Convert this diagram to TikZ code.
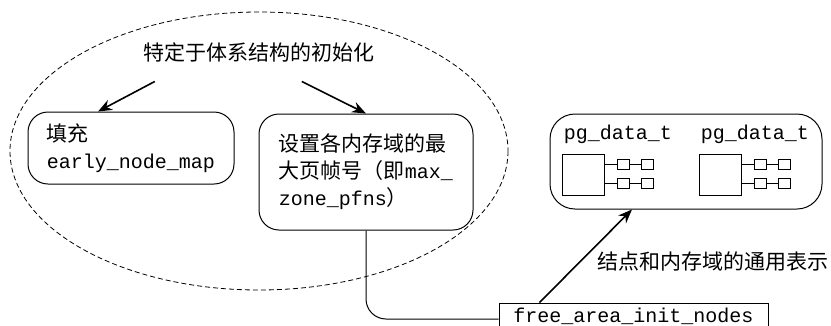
\documentclass[tikz,border=0pt]{standalone}
\usepackage{fontspec}
\setmainfont[Scale=1.05]{Noto Sans CJK SC}
\setmonofont{Liberation Mono}
\usetikzlibrary{arrows.meta}

\tikzset{
  every node/.style={font=\fontsize{20}{27}\selectfont},
  roundbox/.style={draw, line width=1pt, rounded corners=20pt, align=left},
  arr/.style={-{Stealth[length=14pt,width=11pt]}, line width=1.6pt},
  cell/.style={draw, line width=0.8pt}
}

\begin{document}
\begin{tikzpicture}[x=1pt, y=-1pt]
    \useasboundingbox (0,0) rectangle (831,325);

    % Architecture-specific part (dashed ellipse)
    \draw[dashed, line width=0.8pt, dash pattern=on 5pt off 3pt] (259,151) ellipse [x radius=249, y radius=139];
    \node (arch) at (259,52) {特定于体系结构的初始化};

    % Boxes inside the ellipse
    \node[roundbox, minimum width=206pt, minimum height=72pt] (fill) at (131,148)
        {填充\\\texttt{early\_node\_map}};
    \node[roundbox, minimum width=214pt, minimum height=116pt] (maxpfn) at (366,172)
        {设置各内存域的最\\大页帧号（即\texttt{max\_}\\\texttt{zone\_pfns}）};

    \draw[arr] ([xshift=15pt,yshift=-16pt]arch.south west) -- ([xshift=-33pt]fill.north);
    \draw[arr] ([xshift=162pt,yshift=-16pt]arch.south west) -- (maxpfn.north);

    % Generic representation of nodes and zones
    \node[draw, line width=1pt, rounded corners=25pt, minimum width=272pt, minimum height=95pt] (pgdat) at (686,161.5) {};
    \foreach \dx/\name in {0/pgA, 137/pgB} {
        \node[font=\fontsize{20}{24}\ttfamily] (\name) at (618+\dx,134) {pg\_data\_t};
        \draw[cell] (562+\dx,154) rectangle (604+\dx,195);
        \foreach \y in {159,178} {
            \draw[cell] (617+\dx,\y) rectangle (629+\dx,\y+10);
            \draw[cell] (641+\dx,\y) rectangle (653+\dx,\y+10);
            \draw[cell] (604+\dx,\y+5) -- (617+\dx,\y+5);
            \draw[cell] (629+\dx,\y+5) -- (641+\dx,\y+5);
        }
    }

    % free_area_init_nodes
    \node[draw, line width=1pt, minimum width=269pt, minimum height=26pt, inner sep=0pt,
          font=\fontsize{20}{24}\ttfamily] (freeinit) at (633.5,316) {free\_area\_init\_nodes};
    \draw[line width=1pt, rounded corners=20pt] (maxpfn.south) |- ([yshift=-3pt]freeinit.west);
    \node (generic) at (713,262) {结点和内存域的通用表示};
    \draw[arr] ([xshift=41pt]freeinit.north west) -- ([xshift=-54pt]pgdat.south);
\end{tikzpicture}
\end{document}
